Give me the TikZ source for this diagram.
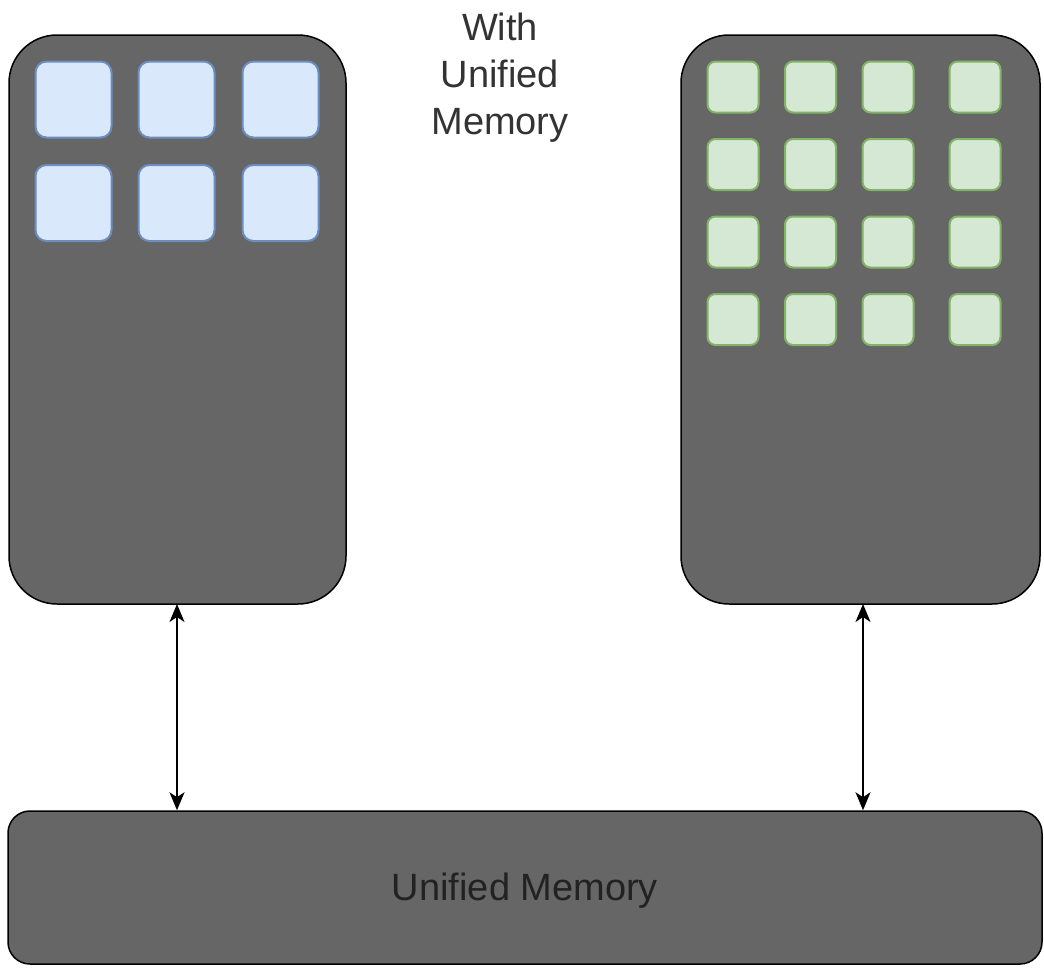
\documentclass[tikz,border=0pt]{standalone}
\usepackage{fontspec}
\setmainfont{Liberation Sans}
\usetikzlibrary{arrows.meta}

\definecolor{boxgray}{HTML}{666666}
\definecolor{txtgray}{HTML}{333333}
\definecolor{txtdark}{HTML}{222222}
\definecolor{bluefill}{HTML}{DAE8FC}
\definecolor{blueline}{HTML}{6C8EBF}
\definecolor{greenfill}{HTML}{D5E8D4}
\definecolor{greenline}{HTML}{82B366}

\tikzset{
  unit/.style={draw=black, line width=1.5pt, fill=boxgray, inner sep=0pt},
  cpucore/.style={draw=blueline, fill=bluefill, line width=2pt, rounded corners=11pt,
    minimum width=76pt, minimum height=76pt, inner sep=0pt},
  gpucore/.style={draw=greenline, fill=greenfill, line width=2pt, rounded corners=8pt,
    minimum width=51pt, minimum height=51pt, inner sep=0pt},
  tip/.style={Stealth[length=18pt,width=15pt,inset=5pt]},
  link/.style={line width=1.8pt, {Stealth[length=18pt,width=15pt,inset=5pt]}-{Stealth[length=18pt,width=15pt,inset=5pt]}},
  label/.style={font=\fontsize{38}{47}\selectfont, text=txtgray, align=center}
}

\begin{document}
\begin{tikzpicture}[x=1pt,y=-1pt]
  \useasboundingbox (0,0) rectangle (1044,967);

  % processors and shared memory
  \node[unit, rounded corners=48pt, minimum width=337pt, minimum height=569pt] (cpu) at (177.5,319.5) {};
  \node[unit, rounded corners=48pt, minimum width=359pt, minimum height=569pt] (gpu) at (860.5,319.5) {};
  \node[unit, rounded corners=22pt, minimum width=1034pt, minimum height=153pt] (mem) at (525,887.5) {};
  \node[label, text=txtdark] (memtext) at (525,891) {Unified Memory};

  % CPU cores: 3 x 2
  \foreach \c/\x in {1/73.5, 2/176.5, 3/280.5}{
    \foreach \r/\y in {1/99.5, 2/203}{
      \node[cpucore] (c\r\c) at (\x,\y) {};
    }
  }

  % GPU cores: 4 x 4
  \foreach \c/\x in {1/733, 2/810.5, 3/888, 4/975}{
    \foreach \r/\y in {1/87, 2/164.5, 3/242, 4/319.5}{
      \node[gpucore] (g\r\c) at (\x,\y) {};
    }
  }

  % caption
  \node[label] (title) at (500,78) {With\\Unified\\Memory};

  % links between processors and memory
  \coordinate (cpuport) at (177,604);
  \coordinate (gpuport) at (863,604);
  \draw[link] (cpuport) -- (cpuport |- mem.north);
  \draw[link] (gpuport) -- (gpuport |- mem.north);
\end{tikzpicture}
\end{document}
